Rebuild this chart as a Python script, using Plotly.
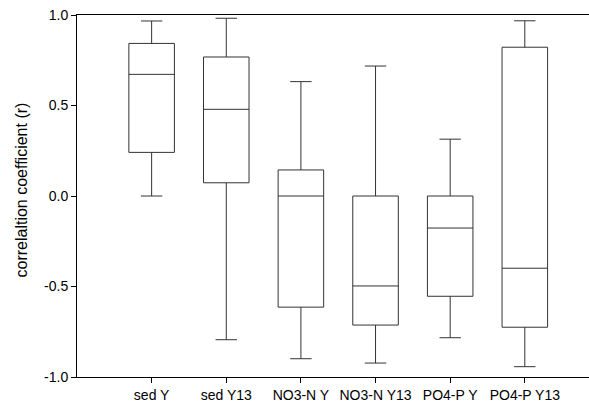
import plotly.graph_objects as go

categories = ["sed Y", "sed Y13", "NO3-N Y", "NO3-N Y13", "PO4-P Y", "PO4-P Y13"]
upper_whisker = [0.967, 0.982, 0.632, 0.718, 0.314, 0.968]
q3_values = [0.843, 0.768, 0.144, 0.0, 0.0, 0.822]
medians = [0.672, 0.479, 0.0, -0.497, -0.177, -0.399]
q1_values = [0.241, 0.073, -0.614, -0.713, -0.554, -0.725]
lower_whisker = [0.0, -0.794, -0.899, -0.923, -0.783, -0.943]

y_tick_vals = [-1.0, -0.5, 0.0, 0.5, 1.0]
y_tick_text = ["-1.0", "-0.5", "0.0", "0.5", "1.0"]
y_title = "correlaltion coefficient (r)"

fig = go.Figure()
fig.add_trace(go.Box(
    x=categories,
    q1=q1_values,
    median=medians,
    q3=q3_values,
    lowerfence=lower_whisker,
    upperfence=upper_whisker,
    boxpoints=False,
    width=0.61,
    whiskerwidth=0.47,
    fillcolor="white",
    line=dict(color="#333333", width=1),
    hoverinfo="skip",
    showlegend=False,
))

font_family = "Liberation Sans, Arial, sans-serif"

fig.update_layout(
    width=589,
    height=404,
    margin=dict(l=77, r=0, t=15, b=27),
    paper_bgcolor="white",
    plot_bgcolor="white",
    font=dict(family=font_family, size=14, color="black"),
    showlegend=False,
)

fig.add_annotation(
    text=y_title,
    xref="paper", yref="paper",
    x=-0.1084, y=0.5166,
    xanchor="center", yanchor="middle",
    textangle=-90,
    showarrow=False,
    font=dict(family=font_family, size=16, color="black"),
)

fig.update_xaxes(
    type="category",
    categoryorder="array",
    categoryarray=categories,
    range=[-1.0, 5.86],
    showgrid=False,
    zeroline=False,
    showline=True,
    linecolor="black",
    linewidth=1,
    mirror=True,
    ticks="outside",
    ticklen=5,
    tickcolor="black",
    tickfont=dict(family=font_family, size=14, color="black"),
)

fig.update_yaxes(
    range=[-1.0, 1.0],
    tickvals=y_tick_vals,
    ticktext=y_tick_text,
    showgrid=False,
    zeroline=False,
    showline=True,
    linecolor="black",
    linewidth=1,
    mirror=False,
    ticks="outside",
    ticklen=5,
    tickcolor="black",
    tickfont=dict(family=font_family, size=14, color="black"),
)

fig.write_html("out.html")
